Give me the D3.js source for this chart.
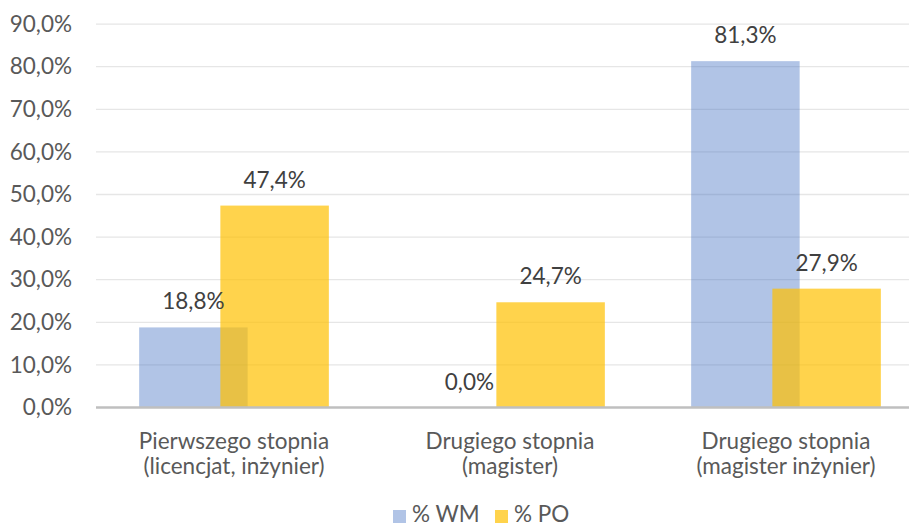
<!DOCTYPE html>
<html><head><meta charset="utf-8">
<script src="https://cdn.jsdelivr.net/npm/d3@7"></script>
<style>body{margin:0;background:#fff}svg{display:block}text{font-family:Lato,"Open Sans",sans-serif}</style>
</head><body><svg id="c" width="910" height="528"></svg>
<script>
const categories = [["Pierwszego stopnia","(licencjat, inżynier)"],["Drugiego stopnia","(magister)"],["Drugiego stopnia","(magister inżynier)"]];
const seriesNames = ["% WM","% PO"];
const wmValues = [0.188, 0.0, 0.813];
const poValues = [0.474, 0.247, 0.279];
const yTicks = [0,0.1,0.2,0.3,0.4,0.5,0.6,0.7,0.8,0.9];
const colors = ["#4472C4","#FFC000"];
const opac = [0.42, 0.7];
const FS = 22.5;

const svg = d3.select("#c");
const catIdx = categories.map((d,i)=>i);
const x0 = d3.scaleBand().domain(catIdx).range([96,924]).padding(0);
const x1 = d3.scalePoint().domain(seriesNames).range([-40.6,40.6]);
const barW = 108.5;
const y = d3.scaleLinear().domain([0,0.9]).range([407.5,24.1]);
const fmt = v => d3.format(".1f")(v*100).replace(".",",")+"%";
const plotL = 96, plotR = 909;

// gridlines
svg.append("g").selectAll("line").data(yTicks.slice(1)).join("line")
  .attr("x1",plotL).attr("x2",plotR).attr("y1",d=>y(d)).attr("y2",d=>y(d))
  .attr("stroke","#e6e6e6").attr("stroke-width",1.3);

// y axis labels
const yAxis = d3.axisLeft(y).tickValues(yTicks).tickFormat(fmt).tickSize(0).tickPadding(0);
const ga = svg.append("g").attr("transform","translate(72,0)").call(yAxis);
ga.select(".domain").remove();
ga.selectAll("text").attr("font-size",FS).attr("fill","#595959").attr("font-family","Lato,sans-serif");

const series = [wmValues, poValues];
series.forEach((vals,si)=>{
  const g = svg.append("g");
  g.selectAll("rect").data(vals).join("rect")
    .attr("x",(d,i)=>x0(i)+x0.bandwidth()/2+x1(seriesNames[si])-barW/2)
    .attr("width",barW)
    .attr("y",d=>y(d)).attr("height",d=>y(0)-y(d))
    .attr("fill",colors[si]).attr("fill-opacity",opac[si]);
});
series.forEach((vals,si)=>{
  svg.append("g").selectAll("text").data(vals).join("text")
    .attr("x",(d,i)=>x0(i)+x0.bandwidth()/2+x1(seriesNames[si]))
    .attr("y",d=>y(d)-18)
    .attr("text-anchor","middle").attr("font-size",FS).attr("fill","#404040")
    .text(fmt);
});

// x axis line
svg.append("line").attr("x1",plotL).attr("x2",plotR).attr("y1",y(0)).attr("y2",y(0))
  .attr("stroke","#bfbfbf").attr("stroke-width",2.5);

// category labels
const cl = svg.append("g").selectAll("text").data(categories).join("text")
  .attr("text-anchor","middle").attr("font-size",FS).attr("fill","#595959");
cl.each(function(d,i){
  const t = d3.select(this);
  d.forEach((line,j)=>{
    t.append("tspan").attr("x",x0(i)+x0.bandwidth()/2).attr("y",448.5+j*25).text(line);
  });
});

// legend
const leg = svg.append("g");
const legX = [393, 495];
seriesNames.forEach((n,i)=>{
  leg.append("rect").attr("x",legX[i]).attr("y",510).attr("width",13).attr("height",13)
    .attr("fill",colors[i]).attr("fill-opacity",opac[i]);
  leg.append("text").attr("x",legX[i]+19).attr("y",522).attr("font-size",FS).attr("fill","#595959").text(n);
});
</script></body></html>
